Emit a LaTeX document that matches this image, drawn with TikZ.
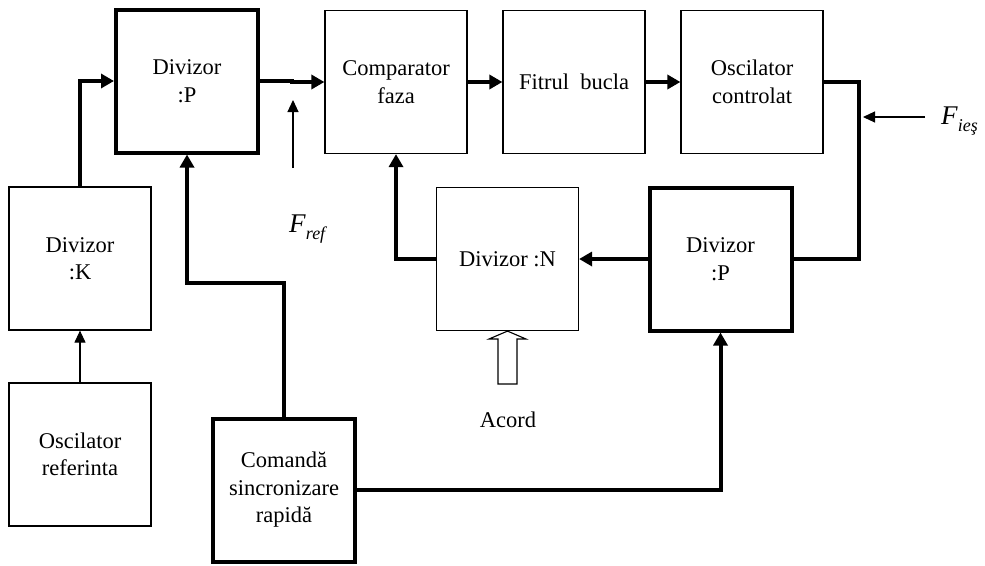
\documentclass[tikz,border=0pt]{standalone}
\usepackage{fontspec}
\setmainfont{Liberation Serif}
\usetikzlibrary{arrows.meta}
\begin{document}
\begin{tikzpicture}[x=1pt,y=-1pt,
  blk/.style={draw, line width=1.2pt, minimum width=142pt, minimum height=143pt, inner sep=0pt, align=center, font=\fontsize{22.5}{27.5}\selectfont},
  blkthick/.style={blk, line width=4pt},
  thickw/.style={line width=4pt, line join=miter},
  thinw/.style={line width=1.1pt},
  tipbig/.style={-{Triangle[length=13pt,width=14pt]}},
  tipsmall/.style={-{Triangle[length=12pt,width=11pt]}},
  lbl/.style={inner sep=0pt, font=\fontsize{22.5}{27.5}\selectfont}
]
\useasboundingbox (0,0) rectangle (985,565);
% blocks
\node[blkthick] (dp1) at (187,81) {Divizor\\:P};
\node[blk] (comp) at (396,82) {Comparator\\faza};
\node[blk] (filt) at (574,82) {Fitrul\ \ bucla};
\node[blk] (oscc) at (752,82) {Oscilator\\controlat};
\node[blk] (dk) at (80,258.5) {Divizor\\:K};
\node[blk] (oscr) at (80,454.5) {Oscilator\\referinta};
\node[blk] (dn) at (507.5,259) {Divizor :N};
\node[blkthick] (dp2) at (720.5,259) {Divizor\\:P};
\node[blkthick] (cmd) at (284,490) {Comandă\\sincronizare\\rapidă};
% coordinates
\coordinate (jg) at (292,81);
\coordinate (out1) at (859,82);
\coordinate (out2) at (859,259);
\coordinate (j1) at (284,283);
\coordinate (frs) at (293,168);
\coordinate (fre) at (293,100);
\coordinate (fis) at (925,117);
\coordinate (fie) at (863,117);
% thick connectors
\draw[thickw, tipbig] (dp1.east) -- (jg) |- (comp.west);
\draw[thickw, tipbig] (comp.east) -- (filt.west);
\draw[thickw, tipbig] (filt.east) -- (oscc.west);
\draw[thickw] (oscc.east) -- (out1) -- (out2) -- (dp2.east);
\draw[thickw, tipbig] (dp2.west) -- (dn.east);
\draw[thickw, tipbig] (dn.west) -| (comp.south);
\draw[thickw, tipbig] (dk.north) |- (dp1.west);
\draw[thickw, tipbig] (cmd.north) -- (j1) -| (dp1.south);
\draw[thickw, tipbig] (cmd.east) -| (dp2.south);
% thin connectors
\draw[thinw, tipsmall] (oscr.north) -- (dk.south);
\draw[thinw, tipsmall] (frs) -- (fre);
\draw[thinw, tipsmall] (fis) -- (fie);
% Acord hollow arrow
\draw[line width=1.1pt, line join=miter, fill=white]
  (498,384) -- (498,339) -- (489,339) -- (dn.south) -- (526,339) -- (517,339) -- (517,384) -- cycle;
% labels
\node[lbl] (acord) at (508,420) {Acord};
\node[inner sep=0pt, anchor=base west] (fref) at (289,232) {\fontsize{27}{27}\selectfont\textit{F}\raisebox{-7pt}{\fontsize{18}{18}\selectfont\textit{ref}}};
\node[inner sep=0pt, anchor=base west] (fies) at (941,124) {\fontsize{27}{27}\selectfont\textit{F}\raisebox{-7pt}{\fontsize{18}{18}\selectfont\textit{ieş}}};
\end{tikzpicture}
\end{document}
